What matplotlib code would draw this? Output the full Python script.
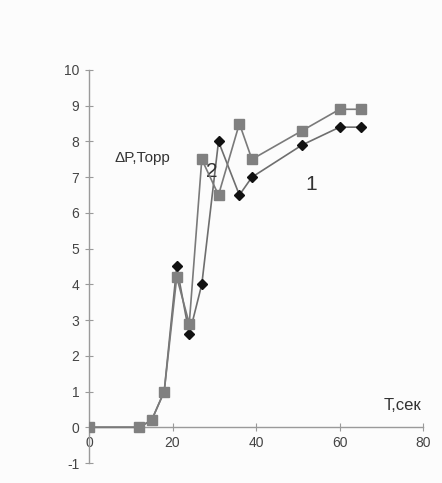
import matplotlib
matplotlib.use("Agg")
import matplotlib.pyplot as plt

plt.rcParams['font.family'] = ['Liberation Sans', 'DejaVu Sans']
plt.rcParams['axes.unicode_minus'] = False

# Series 2 (grey squares)
t2 = [0, 12, 15, 18, 21, 24, 27, 31, 36, 39, 51, 60, 65]
p2 = [0, 0, 0.2, 1.0, 4.2, 2.9, 7.5, 6.5, 8.5, 7.5, 8.3, 8.9, 8.9]
# Series 1 (black diamonds)
t1 = [0, 12, 15, 18, 21, 24, 27, 31, 36, 39, 51, 60, 65]
p1 = [0, 0, 0.2, 1.0, 4.5, 2.6, 4.0, 8.0, 6.5, 7.0, 7.9, 8.4, 8.4]

xticks = [0, 20, 40, 60, 80]
yticks = list(range(-1, 11))

fig = plt.figure(figsize=(4.42, 4.83), dpi=100, facecolor='#fcfcfc')
ax = fig.add_axes([0.2014, 0.0414, 0.756, 0.8137])
ax.set_facecolor('#fcfcfc')

ax.plot(t1, p1, color='#6e6e6e', lw=1.2, marker='D', ms=5.5,
        mfc='#111111', mec='#111111', zorder=3)
ax.plot(t2, p2, color='#7a7a7a', lw=1.2, marker='s', ms=7.5,
        mfc='#808080', mec='#808080', zorder=4)

ax.set_xlim(0, 80)
ax.set_ylim(-1, 10)
ax.set_xticks(xticks)
ax.set_yticks(yticks)

for s in ['top', 'right']:
    ax.spines[s].set_visible(False)
ax.spines['bottom'].set_position(('data', 0))
ax.spines['left'].set_position(('data', 0))
for s in ['bottom', 'left']:
    ax.spines[s].set_color('#9a9a9a')
    ax.spines[s].set_linewidth(1.0)

ax.tick_params(axis='both', colors='#9a9a9a', labelcolor='#444444',
               labelsize=10, direction='inout', length=6, width=0.8)
ax.tick_params(axis='x', pad=3)
ax.tick_params(axis='y', pad=4)

ax.text(6.2, 7.55, 'ΔP,Торр', fontsize=11, color='#333333', va='center', ha='left')
ax.text(29.5, 7.15, '2', fontsize=15, color='#333333', va='center', ha='center')
ax.text(53.3, 6.8, '1', fontsize=15, color='#333333', va='center', ha='center')
ax.text(79.5, 0.6, 'Т,сек', fontsize=12, color='#333333', va='center', ha='right')

fig.savefig('out.png', dpi=100, facecolor=fig.get_facecolor())
